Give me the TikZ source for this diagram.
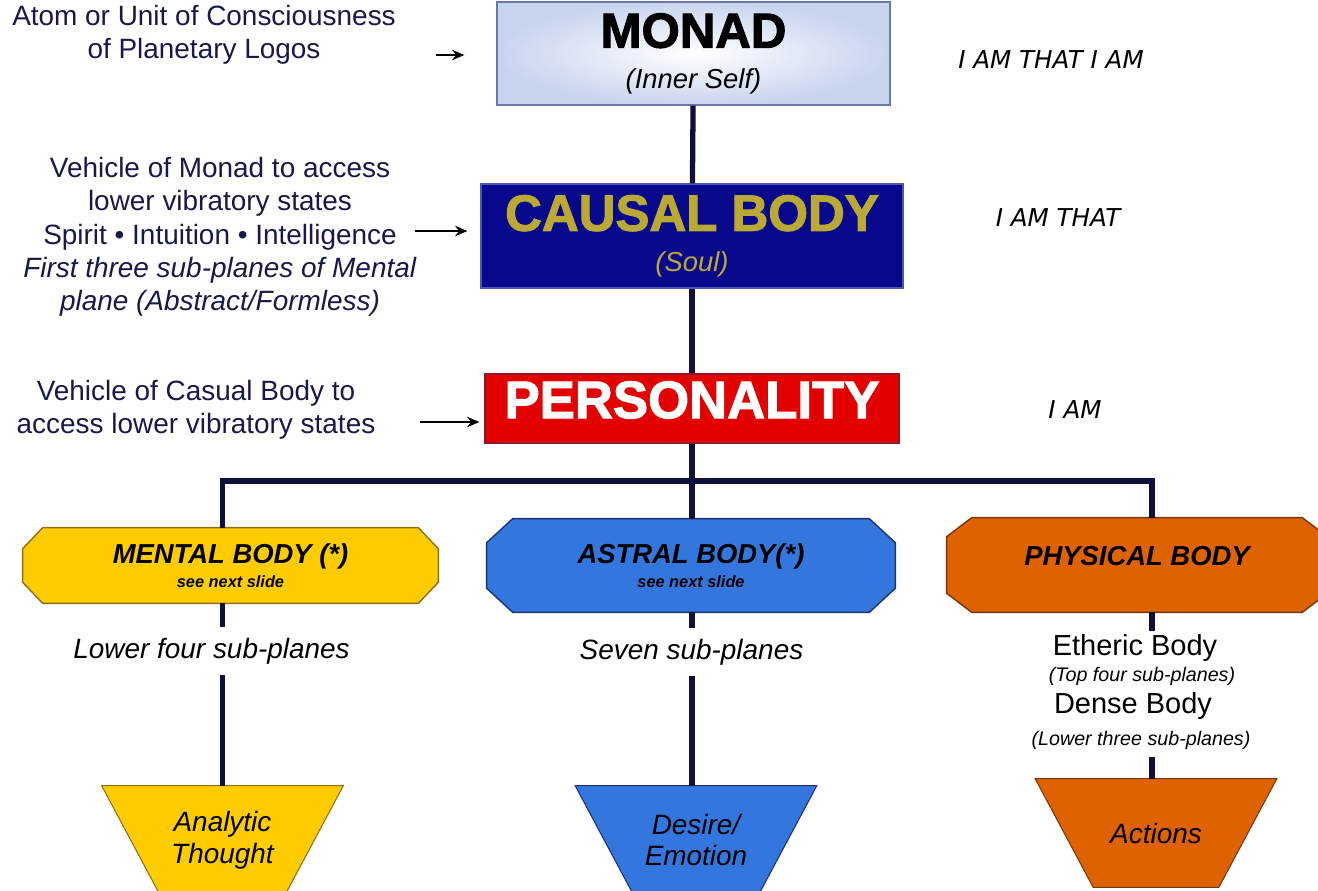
\documentclass[tikz,border=0pt]{standalone}
\usepackage{fontspec}
\setmainfont{Liberation Sans}
\newfontfamily\heavyfont[BoldFeatures={FakeBold=2}]{Liberation Sans}
\newfontfamily\iamfont{DejaVu Sans}
\usetikzlibrary{backgrounds,calc,arrows.meta}

\definecolor{linenavy}{RGB}{16,16,58}
\definecolor{notenavy}{RGB}{24,24,74}
\definecolor{monadblue}{RGB}{200,212,238}
\definecolor{monadedge}{RGB}{105,120,165}
\definecolor{causalblue}{RGB}{8,8,140}
\definecolor{soulgold}{RGB}{186,170,52}
\definecolor{persred}{RGB}{226,0,0}
\definecolor{persedge}{RGB}{150,20,40}
\definecolor{mentyellow}{RGB}{255,204,0}
\definecolor{mentedge}{RGB}{140,112,20}
\definecolor{astrblue}{RGB}{50,118,222}
\definecolor{astredge}{RGB}{30,50,110}
\definecolor{physorange}{RGB}{222,98,0}
\definecolor{physedge}{RGB}{120,55,10}

\newcommand{\chamferbox}[4]{%
	\path[#4] ($(#1.north west)+(#2,0)$) -- ($(#1.north east)+(-#2,0)$)
		-- ($(#1.north east)+(0,#3)$) -- ($(#1.south east)+(0,-#3)$)
		-- ($(#1.south east)+(-#2,0)$) -- ($(#1.south west)+(#2,0)$)
		-- ($(#1.south west)+(0,-#3)$) -- ($(#1.north west)+(0,#3)$) -- cycle;}
\newcommand{\cupbox}[2]{%
	\path[#2] (#1.north west) -- (#1.north east)
		-- ($(#1.south east)+(-58,0)$) -- ($(#1.south west)+(58,0)$) -- cycle;}

\begin{document}
\begin{tikzpicture}[x=0.02cm, y=-0.02cm,
		conn/.style={draw=linenavy, line width=3pt},
		pointer/.style={draw=black, line width=0.8pt, -{Stealth[length=7pt,width=6pt]}},
		note/.style={align=center, text=notenavy, font=\fontsize{15.9}{19}\selectfont},
		iam/.style={font=\iamfont\itshape\fontsize{14}{17}\selectfont},
		sub/.style={align=center, font=\itshape\fontsize{15.9}{19}\selectfont, inner sep=6pt},
		box/.style={line width=0.8pt, inner sep=0pt, align=center, font=\fontsize{15.6}{18}\selectfont},
		bodynode/.style={inner sep=0pt, align=center, font=\bfseries\itshape\fontsize{15.6}{18}\selectfont},
		cup/.style={inner sep=0pt, minimum width=4.82cm, minimum height=2.16cm, align=center,
			font=\itshape\fontsize{15.9}{18}\selectfont}]
	\useasboundingbox (0,0) rectangle (1318,890);

	\node[box, draw=monadedge, inner color=white, outer color=monadblue, minimum width=7.86cm, minimum height=2.06cm] (monad) at (693.5,53.5)
		{{\heavyfont\bfseries\fontsize{28}{30}\selectfont MONAD}\\[5pt]{\itshape (Inner Self)}};
	\node[box, draw=causalblue!70!white, fill=causalblue, text=soulgold, minimum width=8.44cm, minimum height=2.08cm] (causal) at (692,236)
		{{\heavyfont\bfseries\fontsize{29}{30}\selectfont CAUSAL BODY}\\[5pt]{\itshape (Soul)}};
	\node[box, draw=persedge, fill=persred, text=white, text depth=10pt, minimum width=8.28cm, minimum height=1.38cm] (pers) at (692,408.5)
		{\heavyfont\bfseries\fontsize{30}{30}\selectfont PERSONALITY};

	\node[note] (atom) at (204,35) {Atom or Unit of Consciousness\\of Planetary Logos};
	\node[note] (vehmonad) at (220,237) {Vehicle of Monad to access\\lower vibratory states\\Spirit • Intuition • Intelligence\\\textit{First three sub-planes of Mental}\\\textit{plane (Abstract/Formless)}};
	\node[note] (vehcausal) at (196,409.5) {Vehicle of Casual Body to\\access lower vibratory states};

	\coordinate (tail1) at (436,55);
	\coordinate (tail2) at (415,231);
	\coordinate (tail3) at (420,422);
	\draw[pointer, shorten >=0.64cm] (tail1) -- (tail1 -| monad.west);
	\draw[pointer, shorten >=0.26cm] (tail2) -- (tail2 -| causal.west);
	\draw[pointer, shorten >=0.1cm] (tail3) -- (tail3 -| pers.west);

	\node[iam] (iam1) at (1051,60) {I AM THAT I AM};
	\node[iam] (iam2) at (1058,218) {I AM THAT};
	\node[iam] (iam3) at (1075,410) {I AM};

	\node[bodynode, minimum width=8.3cm, minimum height=1.5cm] (ment) at (230.5,565.5)
		{MENTAL BODY (*)\\[-4pt]{\fontsize{9.3}{11}\selectfont see next slide}};
	\node[bodynode, minimum width=8.16cm, minimum height=1.86cm] (astr) at (691,565.5)
		{ASTRAL BODY(*)\\[-4pt]{\fontsize{9.3}{11}\selectfont see next slide}};
	\node[bodynode, text depth=10pt, minimum width=7.6cm, minimum height=1.88cm] (phys) at (1137,565)
		{PHYSICAL BODY};

	\node[sub] (lowfour) at (211.5,651) {Lower four sub-planes};
	\node[sub] (seven) at (691.5,652) {Seven sub-planes};
	\node[inner sep=2pt, font=\fontsize{16.5}{19}\selectfont] (ether) at (1135,648) {Etheric Body};
	\node[inner sep=1pt, font=\itshape\fontsize{11.2}{13}\selectfont] (topfour) at (1142,676) {(Top four sub-planes)};
	\node[inner sep=1pt, font=\fontsize{16.5}{19}\selectfont] (dense) at (1133,706) {Dense Body};
	\node[inner sep=4pt, font=\itshape\fontsize{11.2}{13}\selectfont] (lowthree) at (1141,740) {(Lower three sub-planes)};

	\node[cup] (thought) at (222.5,840) {Analytic\\Thought};
	\node[cup] (desire) at (696,840) {Desire/\\Emotion};
	\node[cup] (action) at (1156,833) {Actions};

	\begin{pgfonlayer}{background}
		\chamferbox{ment}{20}{21}{fill=mentyellow, draw=mentedge, line width=0.8pt}
		\chamferbox{astr}{26}{24}{fill=astrblue, draw=astredge, line width=0.8pt}
		\chamferbox{phys}{25}{19}{fill=physorange, draw=physedge, line width=0.8pt}
		\cupbox{thought}{fill=mentyellow, draw=mentedge, line width=0.6pt}
		\cupbox{desire}{fill=astrblue, draw=astredge, line width=0.6pt}
		\cupbox{action}{fill=physorange, draw=physedge, line width=0.6pt}
	\end{pgfonlayer}

	\coordinate (bus) at (692,481);
	\draw[conn] (monad) -- (causal);
	\draw[conn] (causal) -- (pers);
	\draw[conn] (pers) -- (bus);
	\draw[conn] (thought.north |- ment.north) |- (bus) -| (1152,0 |- phys.north);
	\draw[conn] (bus) -- (bus |- astr.north);

	\draw[conn] (thought.north |- ment.south) -- (thought.north |- lowfour.north);
	\draw[conn] (thought.north |- lowfour.south) -- (thought.north);
	\draw[conn] (bus |- astr.south) -- (bus |- seven.north);
	\draw[conn] (bus |- seven.south) -- (bus |- desire.north);
	\draw[conn] (1152,0 |- phys.south) -- (1152,0 |- ether.north);
	\draw[conn] (1152,0 |- lowthree.south) -- (1152,0 |- action.north);
\end{tikzpicture}
\end{document}
